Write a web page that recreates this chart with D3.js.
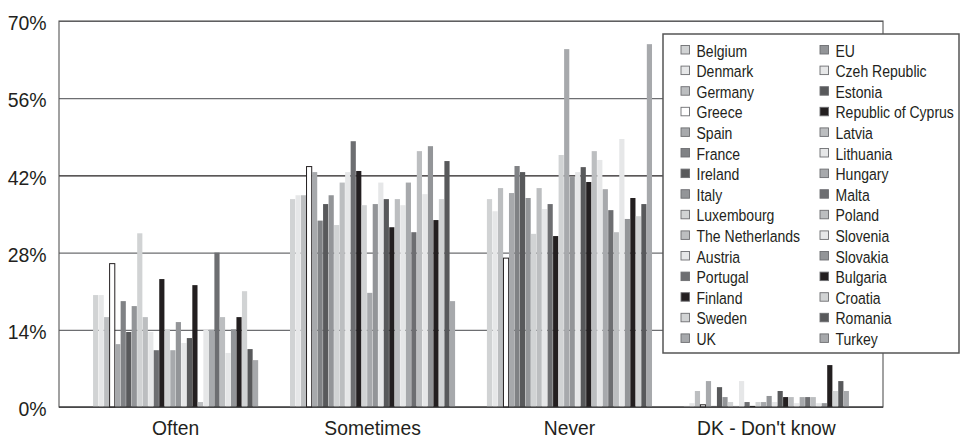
<!DOCTYPE html>
<html>
<head>
<meta charset="utf-8">
<script src="https://cdn.jsdelivr.net/npm/d3@7"></script>
<style>
  html, body { margin: 0; padding: 0; background: #fff; }
  svg { display: block; font-family: "Liberation Sans", Arial, sans-serif; }
</style>
</head>
<body>
<svg id="chart" width="978" height="438"></svg>
<script>
// Answer categories along the x axis
const categories = ["Often", "Sometimes", "Never", "DK - Don't know"];

// Countries (one bar each per category), in legend order
const countries = [
  "Belgium", "Denmark", "Germany", "Greece", "Spain", "France", "Ireland",
  "Italy", "Luxembourg", "The Netherlands", "Austria", "Portugal", "Finland",
  "Sweden", "UK", "EU", "Czeh Republic", "Estonia", "Republic of Cyprus",
  "Latvia", "Lithuania", "Hungary", "Malta", "Poland", "Slovenia", "Slovakia",
  "Bulgaria", "Croatia", "Romania", "Turkey"
];

// Share of respondents (%) per country, one array per category
const often = [20.3, 20.3, 16.3, 26.0, 11.4, 19.2, 13.6, 18.3, 31.5, 16.3,
               13.6, 10.3, 23.2, 14.1, 10.3, 15.4, 11.6, 12.5, 22.1, 0.9,
               14.0, 14.0, 28.0, 16.3, 9.8, 14.1, 16.3, 21.0, 10.5, 8.5];
const sometimes = [37.7, 38.4, 38.4, 43.6, 42.6, 33.8, 36.8, 38.4, 33.0, 40.7,
                   42.6, 48.2, 42.8, 36.6, 20.7, 36.8, 40.7, 37.7, 32.6, 37.7,
                   36.6, 40.7, 31.7, 46.4, 38.6, 47.3, 33.9, 37.7, 44.6, 19.2];
const never = [37.7, 35.5, 39.7, 27.0, 38.8, 43.7, 42.6, 37.9, 31.4, 39.7,
               35.9, 36.8, 31.0, 45.7, 64.9, 41.7, 42.6, 43.5, 40.8, 46.4,
               44.8, 39.5, 35.7, 31.7, 48.6, 34.1, 37.9, 34.6, 36.8, 65.8];
const dontKnow = [0.2, 0.7, 2.9, 0.4, 4.7, 0.2, 3.6, 1.8, 0.9, 0.2,
                  4.7, 0.9, 0.2, 0.9, 0.9, 2.0, 0.9, 2.9, 1.8, 1.8,
                  0.7, 1.8, 1.8, 1.8, 0.7, 0.7, 7.6, 2.9, 4.7, 2.9];

// Y axis ticks (%)
const yTicks = [0, 14, 28, 42, 56, 70];

// Greyscale fill per country
const fills = [
  "#d1d3d4", "#e6e7e8", "#bcbec0", "#ffffff", "#a7a9ac", "#808285", "#58595b",
  "#939598", "#d1d3d4", "#bcbec0", "#e6e7e8", "#6d6e71", "#231f20", "#d1d3d4",
  "#a7a9ac", "#939598", "#e6e7e8", "#58595b", "#231f20", "#bcbec0", "#e6e7e8",
  "#a7a9ac", "#6d6e71", "#bcbec0", "#e6e7e8", "#939598", "#231f20", "#d1d3d4",
  "#58595b", "#a7a9ac"
];

const seriesByCategory = [often, sometimes, never, dontKnow];
const rows = categories.map((c, i) => ({
  category: c,
  values: countries.map((name, j) => ({ name, value: seriesByCategory[i][j], fill: fills[j] }))
}));

const svg = d3.select("#chart");
const plot = { left: 59, right: 883, top: 21, bottom: 407 };

const x0 = d3.scaleBand().domain(categories).range([plot.left, plot.right])
  .paddingInner(0.1616).paddingOuter(0.173);
const x1 = d3.scaleBand().domain(countries).range([0, x0.bandwidth()]).paddingInner(0.06);
const y = d3.scaleLinear().domain([0, 70]).range([plot.bottom, plot.top]);

// Grid lines and y labels
const yAxis = svg.append("g")
  .attr("transform", `translate(${plot.left},0)`)
  .call(d3.axisLeft(y).tickValues(yTicks).tickSize(-(plot.right - plot.left)).tickPadding(13)
    .tickFormat(d => d + "%"));
yAxis.select(".domain").remove();
yAxis.selectAll(".tick line")
  .attr("stroke", d => d === 42 ? "#231f20" : "#6d6e71")
  .attr("stroke-width", 1.2);
yAxis.selectAll(".tick text")
  .attr("fill", "#231f20")
  .style("font-size", "20.5px")
  .attr("dy", "0.42em")
  .attr("transform", "scale(0.95,1)");

// Plot frame
svg.append("rect")
  .attr("x", plot.left).attr("y", plot.top)
  .attr("width", plot.right - plot.left).attr("height", plot.bottom - plot.top)
  .attr("fill", "none").attr("stroke", "#555").attr("stroke-width", 1.1);

// Bars
const groups = svg.append("g").selectAll("g")
  .data(rows).join("g")
  .attr("transform", d => `translate(${x0(d.category)},0)`);

groups.selectAll("rect")
  .data(d => d.values).join("rect")
  .attr("x", d => x1(d.name))
  .attr("width", x1.bandwidth())
  .attr("y", d => y(d.value))
  .attr("height", d => y(0) - y(d.value))
  .attr("fill", d => d.fill)
  .attr("stroke", d => d.fill === "#ffffff" ? "#231f20" : "none")
  .attr("stroke-width", 1);

// Baseline
svg.append("line")
  .attr("x1", plot.left).attr("x2", plot.right)
  .attr("y1", y(0)).attr("y2", y(0))
  .attr("stroke", "#333").attr("stroke-width", 1.2);

// Category labels
const xAxis = svg.append("g")
  .attr("transform", `translate(0,${plot.bottom})`)
  .call(d3.axisBottom(x0).tickSize(0));
xAxis.select(".domain").remove();
xAxis.selectAll(".tick text")
  .attr("fill", "#231f20")
  .style("font-size", "21px")
  .attr("y", 28).attr("dy", 0)
  .attr("transform", "scale(0.92,1)");

// Legend
const legend = svg.append("g");
legend.append("rect")
  .attr("x", 663).attr("y", 34)
  .attr("width", 296).attr("height", 319)
  .attr("fill", "#fff").attr("stroke", "#555").attr("stroke-width", 1.5);

const perCol = 15, rowH = 20.6;
const items = legend.selectAll("g.item")
  .data(countries.map((name, i) => ({ name, fill: fills[i], i })))
  .join("g").attr("class", "item")
  .attr("transform", d => {
    const col = Math.floor(d.i / perCol), row = d.i % perCol;
    return `translate(${681 + col * 139},${50 + row * rowH})`;
  });
items.append("rect")
  .attr("x", 0).attr("y", -4.5).attr("width", 8.5).attr("height", 8.5)
  .attr("fill", d => d.fill).attr("stroke", "#6d6e71").attr("stroke-width", 0.9);
items.append("text")
  .attr("transform", "translate(15.5,6.5) scale(0.85,1)")
  .attr("fill", "#231f20")
  .style("font-size", "16.5px")
  .text(d => d.name);
</script>
</body>
</html>
